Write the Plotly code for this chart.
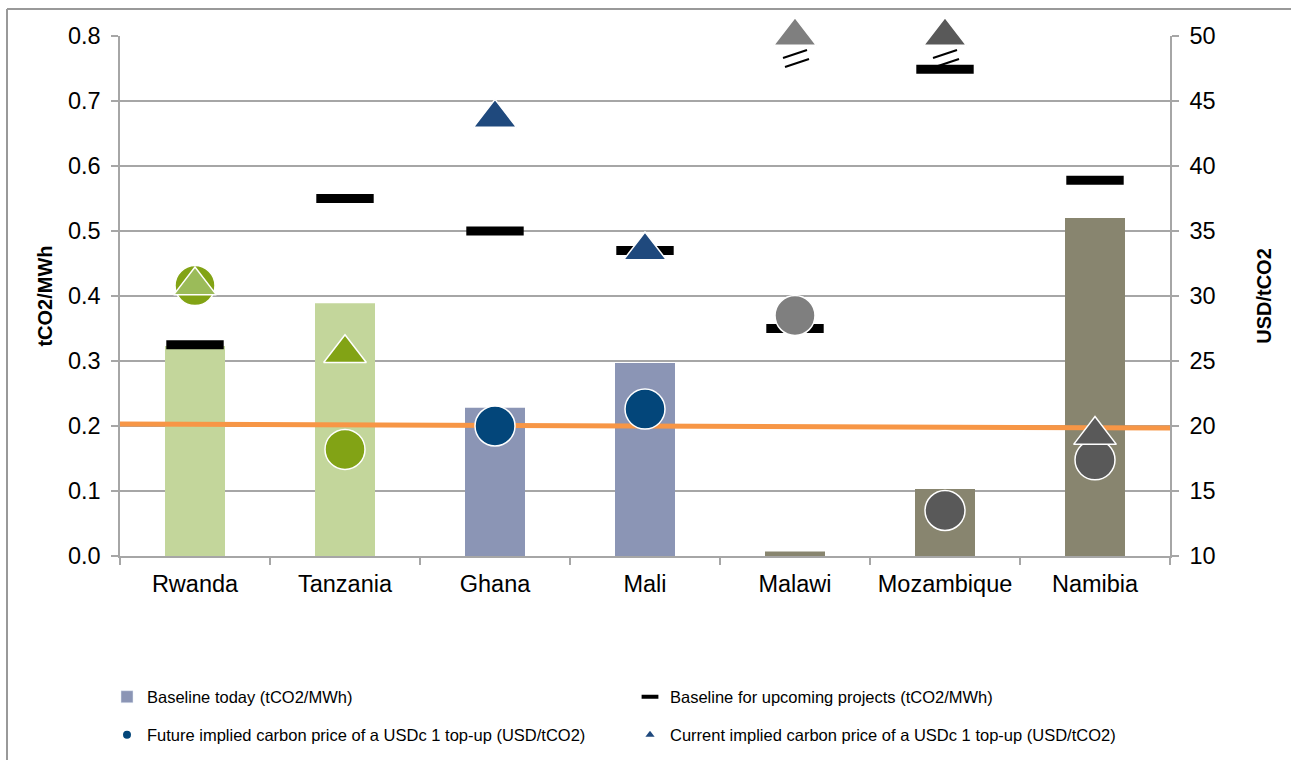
import plotly.graph_objects as go

# ---------------- data ----------------
categories = ["Rwanda", "Tanzania", "Ghana", "Mali", "Malawi", "Mozambique", "Namibia"]
baseline_today = [0.323, 0.389, 0.228, 0.297, 0.007, 0.103, 0.520]          # tCO2/MWh (bars)
baseline_upcoming = [0.325, 0.550, 0.500, 0.470, 0.350, 0.749, 0.578]       # tCO2/MWh (dashes)
future_price = [30.8, 18.2, 20.0, 21.3, 28.5, 13.5, 17.4]                  # USD/tCO2 (circles)
current_price = [30.8, 25.6, 43.7, 33.5, 50.0, 50.0, 19.3]                 # USD/tCO2 (triangles)
reference_line = [0.203, 0.197]                                             # orange line (left axis, start/end)

left_ticks = [0.0, 0.1, 0.2, 0.3, 0.4, 0.5, 0.6, 0.7, 0.8]
right_ticks = [10, 15, 20, 25, 30, 35, 40, 45, 50]

legend_names = [
    "Baseline today (tCO2/MWh)",
    "Baseline for upcoming projects (tCO2/MWh)",
    "Future implied carbon price of a USDc 1 top-up (USD/tCO2)",
    "Current implied carbon price of a USDc 1 top-up (USD/tCO2)",
]

# ---------------- styles ----------------
bar_colors = ["#C3D69B", "#C3D69B", "#8B95B5", "#8B95B5", "#88856F", "#88856F", "#88856F"]
circle_colors = ["#82A315", "#82A315", "#03467A", "#03467A", "#7F7F7F", "#595959", "#595959"]
tri_colors = ["#9BBB59", "#82A315", "#1F497D", "#1F497D", "#7F7F7F", "#595959", "#595959"]
FONT = "Liberation Sans, Arial, sans-serif"
GRID = "#A6A6A6"

W, H = 1291, 760
ML, MR, MT, MB = 120, 121, 36, 204
PW, PH = W - ML - MR, H - MT - MB


def px2x(px):
    return (px - ML) / PW


def px2y(py):
    return (H - MB - py) / PH


n = len(categories)
idx = list(range(n))
xmin, xmax = -0.5, n - 0.5
y2min, y2max = right_ticks[0], right_ticks[-1]

fig = go.Figure()

# bars
fig.add_trace(go.Bar(
    x=idx, y=baseline_today, width=0.4,
    marker=dict(color=bar_colors, line=dict(width=0)),
    showlegend=False, yaxis="y", cliponaxis=False,
))

# orange reference line
fig.add_trace(go.Scatter(
    x=[xmin, xmax], y=reference_line, mode="lines",
    line=dict(color="#F79646", width=5), showlegend=False, yaxis="y",
))

# baseline for upcoming projects (dashes)
fig.add_trace(go.Scatter(
    x=idx, y=baseline_upcoming, mode="markers",
    marker=dict(symbol="line-ew", size=41, line=dict(width=9, color="black")),
    showlegend=False, yaxis="y", cliponaxis=False,
))

# future price (circles)
fig.add_trace(go.Scatter(
    x=idx, y=future_price, mode="markers",
    marker=dict(symbol="circle", size=40, color=circle_colors, line=dict(width=1.5, color="white")),
    showlegend=False, yaxis="y2", cliponaxis=False,
))

# current price (triangles)
fig.add_trace(go.Scatter(
    x=idx, y=current_price, mode="markers",
    marker=dict(symbol="triangle-up", size=37, color=tri_colors, line=dict(width=1.5, color="white")),
    showlegend=False, yaxis="y2", cliponaxis=False,
))

# legend-only entries
fig.add_trace(go.Bar(x=[None], y=[None], name=legend_names[0],
                     marker=dict(color="#8B95B5"), legend="legend"))
fig.add_trace(go.Scatter(x=[None], y=[None], mode="markers", name=legend_names[1],
                         marker=dict(symbol="line-ew", size=12, line=dict(width=4, color="black")),
                         legend="legend"))
fig.add_trace(go.Scatter(x=[None], y=[None], mode="markers", name=legend_names[2],
                         marker=dict(symbol="circle", size=8, color="#03467A"), legend="legend2"))
fig.add_trace(go.Scatter(x=[None], y=[None], mode="markers", name=legend_names[3],
                         marker=dict(symbol="triangle-up", size=8, color="#1F497D"), legend="legend2"))

# axis-break marks (two slanted strokes) under off-scale points
shapes = []
for i, v in enumerate(current_price):
    if v >= y2max:
        for (a, b, c, d) in [(-12, -22, 12, -14), (-10, -31, 14, -23)]:
            shapes.append(dict(
                type="line", xref="x", yref="y2", xsizemode="pixel", ysizemode="pixel",
                xanchor=i, yanchor=v, x0=a, y0=b, x1=c, y1=d,
                line=dict(color="black", width=2),
            ))

border_x = px2x(7)
border_y = px2y(9)
shapes += [
    dict(type="line", xref="paper", yref="paper", x0=border_x, x1=border_x,
         y0=border_y, y1=px2y(H + 5), line=dict(color="#999999", width=2)),
    dict(type="line", xref="paper", yref="paper", x0=border_x, x1=px2x(W + 5),
         y0=border_y, y1=border_y, line=dict(color="#999999", width=2)),
]

legend_common = dict(
    orientation="h", xanchor="left", yanchor="middle",
    font=dict(family=FONT, size=16.5, color="black"),
    bgcolor="rgba(0,0,0,0)", itemwidth=30,
    entrywidth=478, entrywidthmode="pixels",
    itemclick=False, itemdoubleclick=False,
)

fig.update_layout(
    width=W, height=H,
    margin=dict(l=ML, r=MR, t=MT, b=MB, pad=0, autoexpand=False),
    paper_bgcolor="white", plot_bgcolor="white",
    font=dict(family=FONT, color="black"),
    barmode="overlay",
    xaxis=dict(
        range=[xmin, xmax], tickmode="array", tickvals=idx, ticktext=categories,
        ticks="", showgrid=False, zeroline=False,
        showline=True, linecolor=GRID, linewidth=1.5,
        ticklabelstandoff=6,
        tickfont=dict(size=23.5, family=FONT, color="black"),
        minor=dict(tickmode="linear", tick0=xmin, dtick=1, ticks="outside",
                   ticklen=7, tickcolor=GRID, tickwidth=1.5, showgrid=False),
    ),
    yaxis=dict(
        range=[left_ticks[0], left_ticks[-1]], tickmode="array", tickvals=left_ticks,
        tickformat=".1f", ticks="outside", ticklen=7, tickcolor=GRID, tickwidth=1.5,
        showgrid=True, gridcolor=GRID, gridwidth=1.5, zeroline=False,
        showline=True, linecolor=GRID, linewidth=1.5,
        ticklabelstandoff=6,
        tickfont=dict(size=23.5, family=FONT, color="black"),
        title=dict(text="<b>tCO2/MWh</b>", font=dict(size=20, family=FONT, color="black"), standoff=10),
    ),
    yaxis2=dict(
        overlaying="y", side="right", anchor="x",
        range=[y2min, y2max], tickmode="array", tickvals=right_ticks,
        ticks="outside", ticklen=7, tickcolor=GRID, tickwidth=1.5,
        showgrid=False, zeroline=False,
        showline=True, linecolor=GRID, linewidth=1.5,
        ticklabelstandoff=6,
        tickfont=dict(size=23.5, family=FONT, color="black"),
        title=dict(text="<b>USD/tCO2</b>", font=dict(size=20, family=FONT, color="black"), standoff=42),
    ),
    legend=dict(x=px2x(107), y=px2y(697), **legend_common),
    legend2=dict(x=px2x(107), y=px2y(735), **legend_common),
    shapes=shapes,
)

fig.write_html("out.html")
